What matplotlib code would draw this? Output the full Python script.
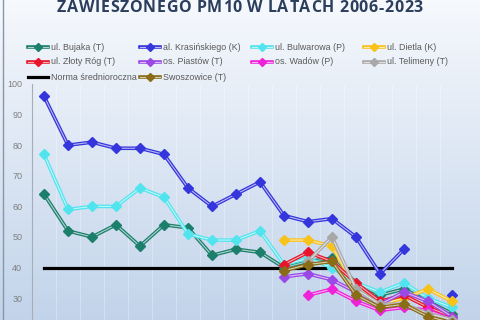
import numpy as np
import matplotlib
matplotlib.use("Agg")
import matplotlib.pyplot as plt
from matplotlib.lines import Line2D

nan = np.nan
lata = list(range(2006, 2024))

# stezenia srednioroczne PM10 [ug/m3]
bujaka = [64, 52, 50, 54, 47, 54, 53, 44, 46, 45, 40, 42, 43, 35, 31, 33, 29, 25]
krasinskiego = [96, 80, 81, 79, 79, 77, 66, 60, 64, 68, 57, 55, 56, 50, 38, 46, nan, 31]
bulwarowa = [77, 59, 60, 60, 66, 63, 51, 49, 49, 52, 41, 43, 40, 35, 32, 35, 30, 27]
dietla = [nan] * 10 + [49, 49, 47, 33, 28, 30, 33, 29]
zloty_rog = [nan] * 10 + [41, 45, 42, 35, 29, 31, 27, 24]
piastow = [nan] * 10 + [37, 38, 36, 32, 28, 32, 29, 24]
wadow = [nan] * 11 + [31, 33, 29, 26, 27, 26, 23]
telimeny = [nan] * 11 + [42, 50, 33, 28, 28, 25, 23]
swoszowice = [nan] * 10 + [39, 41, 42, 31, 27, 28, 24, 22]
norma = 40

serie = [
    ("ul. Bujaka (T)", bujaka, "#1b7f6c"),
    ("al. Krasińskiego (K)", krasinskiego, "#3535dc"),
    ("ul. Bulwarowa (P)", bulwarowa, "#52e4ee"),
    ("ul. Dietla (K)", dietla, "#f7c21a"),
    ("ul. Złoty Róg (T)", zloty_rog, "#e8142c"),
    ("os. Piastów (T)", piastow, "#9a48e6"),
    ("os. Wadów (P)", wadow, "#ee22d8"),
    ("ul. Telimeny (T)", telimeny, "#a8a8a8"),
    ("Swoszowice (T)", swoszowice, "#8a6c16"),
]
tytul = "ZAWIESZONEGO PM10 W LATACH 2006-2023"

W, H = 480, 320
fig = plt.figure(figsize=(W / 100, H / 100), dpi=100)

# tlo z gradientem
bg = fig.add_axes([0, 0, 1, 1], zorder=-10)
grad = np.linspace(0, 1, 256).reshape(-1, 1)
top = np.array([0.965, 0.975, 0.99])
bot = np.array([0.76, 0.83, 0.92])
img = top + (bot - top) * grad[..., None]
bg.imshow(img, aspect="auto", extent=[0, 1, 0, 1])
bg.axis("off")
bg.plot([3 / W, 3 / W], [0, 1], color="#8a96a6", lw=1.0)
bg.set_xlim(0, 1)
bg.set_ylim(0, 1)

ax = fig.add_axes([32 / W, 1 - 328.8 / H, 432 / W, 244.8 / H])
ax.set_facecolor("none")
x = np.arange(len(lata))


def rysuj(ax, xs, ys, kolor, z):
    # linia podwojna: gruba kolorowa + jasny srodek
    ax.plot(xs, ys, color=kolor, lw=2.6, zorder=z, solid_capstyle="round")
    ax.plot(xs, ys, color="white", lw=0.8, alpha=0.65, zorder=z + 0.1)
    ax.plot(xs, ys, color=kolor, marker="D", ms=5.5, ls="none", zorder=z + 0.2)


for i, (nazwa, dane, kolor) in enumerate(serie):
    rysuj(ax, x, np.array(dane, dtype=float), kolor, 3 + i)

ax.plot([x[0], x[-1]], [norma, norma], color="black", lw=2.3, zorder=2.5)

ax.set_xlim(-0.5, len(lata) - 0.5)
ax.set_ylim(20, 100)
ax.set_yticks([30, 40, 50, 60, 70, 80, 90, 100])
ax.tick_params(axis="y", length=0, pad=7, labelsize=6.5, labelcolor="#7f7f7f")
ax.set_xticks([])
for s in ["top", "right", "bottom"]:
    ax.spines[s].set_visible(False)
ax.spines["left"].set_color("#a6adb8")
for xi in x:
    ax.axvline(xi + 0.5, color="white", lw=0.6, alpha=0.35, zorder=1)

for lab in ax.get_yticklabels():
    lab.set_family("Liberation Sans")

# tytul (uciety u gory), litery rozstawione recznie
rend = fig.canvas.get_renderer()
styl = dict(fontsize=11.5, fontweight="bold", color="#2b3e5c", family="Open Sans",
            va="baseline", ha="left")
szer = []
for ch in tytul:
    t = fig.text(0, 0, ch if ch != " " else "-", **styl)
    w = t.get_window_extent(rend).width
    szer.append(w * 0.75 if ch == " " else w)
    t.remove()
odstep = (366 - sum(szer)) / (len(tytul) - 1)
xp = 57.0
for ch, w in zip(tytul, szer):
    if ch != " ":
        fig.text(xp / W, 1 - 12.5 / H, ch, **styl)
    xp += w + odstep

# legenda rysowana recznie, 4 kolumny
kolumny = [28, 140, 252, 364]
wiersze = [47, 62, 77]
legenda = serie[:8] + [("Norma średnioroczna", None, "black"), serie[8]]
for k, (nazwa, dane, kolor) in enumerate(legenda):
    cx = kolumny[k % 4]
    cy = 1 - wiersze[k // 4] / H
    x0, x1 = cx / W, (cx + 20) / W
    if dane is None:
        fig.add_artist(Line2D([x0, x1], [cy, cy], color="black", lw=2.3))
    else:
        fig.add_artist(Line2D([x0, x1], [cy, cy], color=kolor, lw=2.6))
        fig.add_artist(Line2D([x0, x1], [cy, cy], color="white", lw=0.8, alpha=0.65))
        fig.add_artist(Line2D([(x0 + x1) / 2], [cy], color=kolor, marker="D", ms=4.5))
    fig.text((cx + 23) / W, cy, nazwa, ha="left", va="center", fontsize=6.4,
             color="#595959", family="Liberation Sans")

fig.savefig("out.png", dpi=100)
